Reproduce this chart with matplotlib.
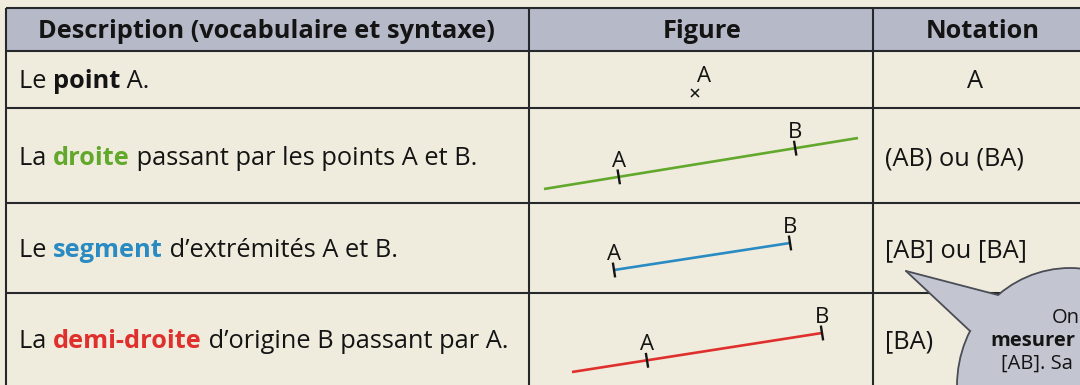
import matplotlib
matplotlib.use("Agg")
import matplotlib.pyplot as plt
from matplotlib.patches import Rectangle, Ellipse, Polygon

# ---------------- data ----------------
headers = ["Description (vocabulaire et syntaxe)", "Figure", "Notation"]
# description pieces: (text, colour key, bold)
desc_row1 = [("Le ", "k", False), ("point", "k", True), (" A.", "k", False)]
desc_row2 = [("La ", "k", False), ("droite", "g", True), (" passant par les points A et B.", "k", False)]
desc_row3 = [("Le ", "k", False), ("segment", "b", True), (" d\u2019extrémités A et B.", "k", False)]
desc_row4 = [("La ", "k", False), ("demi-droite", "r", True), (" d\u2019origine B passant par A.", "k", False)]
descriptions = [desc_row1, desc_row2, desc_row3, desc_row4]
notations = ["A", "(AB) ou (BA)", "[AB] ou [BA]", "[BA)"]
bubble_lines = [("On", False), ("mesurer", True), ("[AB]. Sa", False)]

# ---------------- layout (pixels) ----------------
W, H = 1080, 385
col_edges = [6, 529, 873, 1200]
row_edges = [8, 51, 108, 203, 293, 420]
baselines = [38, 88, 165, 257, 348]

BG = "#f0ecdd"
HEAD = "#b6b9c7"
LINE = "#26282c"
TXT = "#141414"
COLS = {"k": TXT, "g": "#62a82c", "b": "#2a8bc3", "r": "#e0302d"}
FONT = "Open Sans"
FS = 18.3

fig = plt.figure(figsize=(W / 100, H / 100), dpi=100, facecolor=BG)
ax = fig.add_axes([0, 0, 1, 1])
ax.set_xlim(0, W)
ax.set_ylim(H, 0)
ax.axis("off")
ax.set_facecolor(BG)

# header band
ax.add_patch(Rectangle((col_edges[0], row_edges[0]), col_edges[-1] - col_edges[0],
                       row_edges[1] - row_edges[0], facecolor=HEAD, edgecolor="none", zorder=1))
# grid lines
for y in row_edges[:-1]:
    ax.plot([col_edges[0], col_edges[-1]], [y, y], color=LINE, lw=1.5, zorder=3, solid_capstyle="butt")
for x in col_edges[:-1]:
    ax.plot([x, x], [row_edges[0], row_edges[-1]], color=LINE, lw=1.5, zorder=3, solid_capstyle="butt")

renderer = fig.canvas.get_renderer()

# headers
header_cx = [266, 702, 983]
for cx, h in zip(header_cx, headers):
    ax.text(cx, baselines[0], h, ha="center", va="baseline", fontsize=FS, fontweight="bold",
            family=FONT, color=TXT, zorder=5)

# descriptions (multi-coloured pieces)
for r, pieces in enumerate(descriptions):
    x = 19
    y = baselines[r + 1]
    for txt, ck, bold in pieces:
        t = ax.text(x, y, txt, ha="left", va="baseline", fontsize=FS,
                    fontweight="bold" if bold else "normal", family=FONT, color=COLS[ck], zorder=5)
        x += t.get_window_extent(renderer).width

# notations
for r, n in enumerate(notations):
    if r == 0:
        ax.text(975, baselines[1], n, ha="center", va="baseline", fontsize=FS, family=FONT, color=TXT, zorder=5)
    else:
        ax.text(885, baselines[r + 1], n, ha="left", va="baseline", fontsize=FS, family=FONT, color=TXT, zorder=5)

# ---------------- figures ----------------
LAB = 16
# point A
ax.plot([695], [92.5], marker="x", color=TXT, ms=5.5, mew=1.1, zorder=5)
ax.text(704, 82, "A", ha="center", va="baseline", fontsize=LAB, family=FONT, color=TXT, zorder=5)

def tick(ax, p, d, half=7.5):
    # small mark perpendicular to direction d
    nx, ny = -d[1], d[0]
    ax.plot([p[0] - nx * half, p[0] + nx * half], [p[1] - ny * half, p[1] + ny * half],
            color=TXT, lw=1.7, zorder=6, solid_capstyle="butt")

def drawfig(ax, p0, p1, ta, tb, colour):
    dx, dy = p1[0] - p0[0], p1[1] - p0[1]
    L = (dx * dx + dy * dy) ** 0.5
    d = (dx / L, dy / L)
    ax.plot([p0[0], p1[0]], [p0[1], p1[1]], color=colour, lw=1.9, zorder=5, solid_capstyle="butt")
    for t, lab in ((ta, "A"), (tb, "B")):
        p = (p0[0] + dx * t, p0[1] + dy * t)
        tick(ax, p, d)
        ax.text(p[0], p[1] - 10, lab, ha="center", va="baseline", fontsize=LAB, family=FONT,
                color=TXT, zorder=6)

# droite (AB)
drawfig(ax, (544, 189), (858, 138), 0.238, 0.80, COLS["g"])
# segment [AB]
drawfig(ax, (614, 270), (790, 243), 0.0, 1.0, COLS["b"])
# demi-droite [BA)
drawfig(ax, (572, 372), (822, 333), 0.30, 1.0, COLS["r"])

# ---------------- speech bubble ----------------
BUB = "#c3c5d1"
BEDGE = "#4a4c56"
ax.add_patch(Ellipse((1070, 386), 226, 236, facecolor=BUB, edgecolor=BEDGE, lw=1.3, zorder=8))
ax.add_patch(Polygon([(906, 271), (970, 331), (1008, 312), (998, 295)], closed=True,
                     facecolor=BUB, edgecolor="none", zorder=9))
ax.plot([906, 970], [271, 331], color=BEDGE, lw=1.3, zorder=9, solid_capstyle="round")
ax.plot([906, 998], [271, 295], color=BEDGE, lw=1.3, zorder=9, solid_capstyle="round")
bx = [1052, 990, 1001]
by = [323, 346, 369]
for (txt, bold), x, y in zip(bubble_lines, bx, by):
    ax.text(x, y, txt, ha="left", va="baseline", fontsize=14.5, fontweight="bold" if bold else "normal",
            family=FONT, color=TXT, zorder=10)

fig.savefig("out.png", dpi=100, facecolor=BG)
